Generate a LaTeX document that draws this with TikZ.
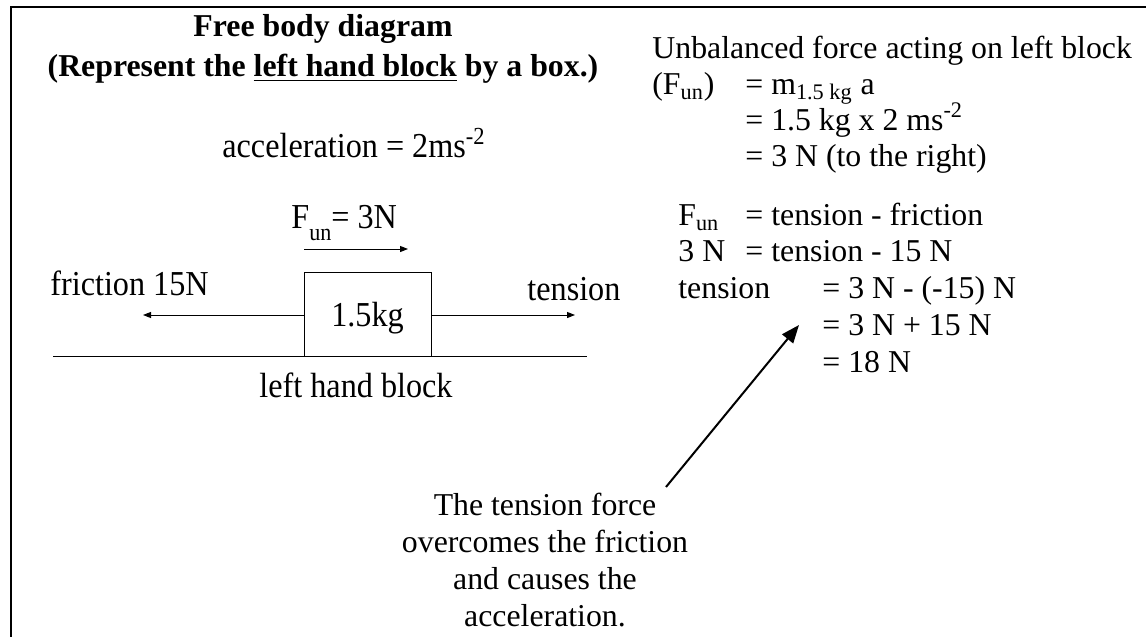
\documentclass[tikz,border=0pt]{standalone}
\usepackage{fontspec}
\setmainfont{Liberation Serif}
\newfontfamily\fbdfont[FakeStretch=0.92]{Liberation Serif}
\usepackage{tikz}
\usetikzlibrary{positioning,arrows.meta,calc}

\tikzset{
  eqtxt/.style={anchor=base west, inner sep=0pt, font=\fontsize{15.9}{18.5}\selectfont},
  fbdtxt/.style={anchor=base west, inner sep=0pt, font=\fbdfont\fontsize{17.5}{20}\selectfont},
  force/.style={-{Triangle[length=4pt,width=3pt]}, line width=0.5pt},
  pointer/.style={-{Triangle[length=9pt,width=7pt]}, line width=1pt},
}

\begin{document}
\begin{tikzpicture}[x=0.5pt, y=-0.5pt]
\useasboundingbox (0,0) rectangle (1146,637);
% ---- frame (top and left edge only) ----
\draw[line width=1pt] (1146,7) -- (11,7) -- (11,637);
% ---- heading ----
\node[anchor=north, align=center, inner sep=0pt, font=\bfseries\fontsize{15.9}{20}\selectfont] (head) at (323,14.5)
  {Free body diagram\\(Represent the \underline{left hand block} by a box.)};
% ---- free body diagram of the block ----
\node[fbdtxt] (accel) at (222,157) {acceleration = 2ms\textsuperscript{-2}};
\draw[line width=0.5pt] (53,356) -- (587,356);
\node[draw, line width=0.5pt, minimum width=63.5pt, minimum height=42pt, inner sep=0pt,
      text depth=0pt, font=\fbdfont\fontsize{17.5}{20}\selectfont] (blk) at (367.5,314) {1.5kg};
\coordinate (funA) at (304,249);
\coordinate (funB) at (408,249);
\coordinate (fricEnd) at (143,315);
\coordinate (tensEnd) at (575,315);
\draw[force] (funA) -- (funB);
\draw[force] (blk.west |- fricEnd) -- (fricEnd);
\draw[force] (blk.east |- tensEnd) -- (tensEnd);
\node[fbdtxt] (funlbl) at (291,228) {F\raisebox{-0.35em}{\fontsize{12}{12}\selectfont un}= 3N};
\node[fbdtxt] (friclbl) at (50,295) {friction 15N};
\node[fbdtxt] (tenslbl) at (527,300) {tension};
\node[fbdtxt] (blklbl) at (259,397) {left hand block};
% ---- working on the right ----
\node[eqtxt] (ub) at (652,58) {Unbalanced force acting on left block};
\node[eqtxt] (fa) at (652,94) {(F\textsubscript{un})};
\node[eqtxt] (fb) at (745,94) {= m\textsubscript{1.5 kg} a};
\node[eqtxt] (fc) at (745,130) {= 1.5 kg x 2 ms\textsuperscript{-2}};
\node[eqtxt] (fd) at (745,166) {= 3 N (to the right)};
\node[eqtxt] (ta) at (678,225) {F\textsubscript{un}};
\node[eqtxt] (tb) at (745,225) {= tension - friction};
\node[eqtxt] (tc) at (678,261) {3 N};
\node[eqtxt] (td) at (745,261) {= tension - 15 N};
\node[eqtxt] (te) at (678,298) {tension};
\node[eqtxt] (tf) at (822,298) {= 3 N - (-15) N};
\node[eqtxt] (tg) at (822,335) {= 3 N + 15 N};
\node[eqtxt] (th) at (822,372) {= 18 N};
% ---- note with pointer ----
\node[anchor=north, align=center, inner sep=0pt, font=\fontsize{15.9}{18.5}\selectfont] (note) at (545,493)
  {The tension force\\overcomes the friction\\and causes the\\acceleration.};
\coordinate (tailpt) at (666,487);
\coordinate (tippt) at (799,325);
\draw[pointer] (tailpt) -- (tippt);
\end{tikzpicture}
\end{document}
